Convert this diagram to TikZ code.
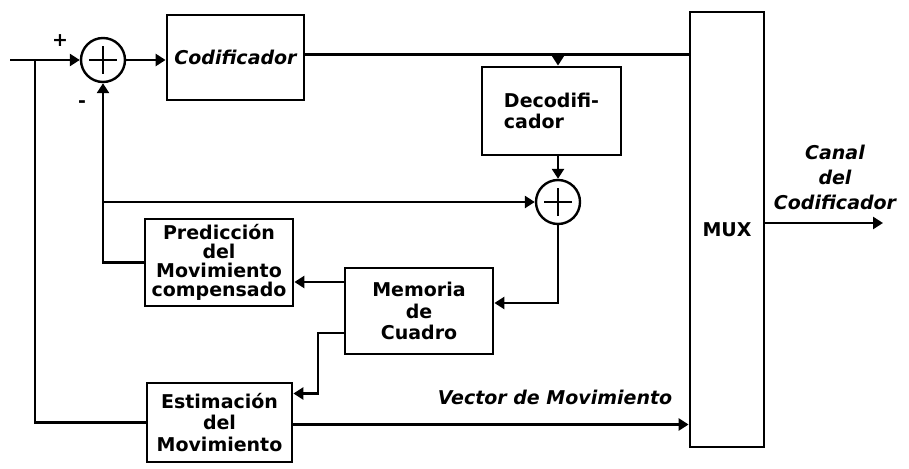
\documentclass[tikz,border=0pt]{standalone}
\usepackage{fontspec}
\setsansfont{DejaVu Sans}
\usetikzlibrary{arrows.meta,calc}
\tikzset{
  blk/.style={draw,line width=2.8pt,align=center,inner sep=1pt},
  sumnode/.style={draw,circle,line width=2.4pt,minimum size=44pt,inner sep=0pt,
    path picture={\draw[line width=2.4pt] ($(path picture bounding box.center)+(-14pt,0)$) -- ($(path picture bounding box.center)+(14pt,0)$)
      ($(path picture bounding box.center)+(0,-14pt)$) -- ($(path picture bounding box.center)+(0,14pt)$);}},
  flow/.style={line width=2.7pt,-{Triangle[length=10pt,width=12pt]}},
  wire/.style={line width=2.7pt},
  slant/.style={font=\sffamily\bfseries\itshape\fontsize{19}{21}\selectfont}
}
\begin{document}
\begin{tikzpicture}[x=1pt,y=-1pt,font=\sffamily\bfseries\fontsize{19}{21.5}\selectfont]
\useasboundingbox[fill=white] (0,0) rectangle (909,468);

% blocks
\node[sumnode] (sumA) at (103,60) {};
\node[blk,slant,minimum width=137pt,minimum height=85pt] (cod) at (235.5,57.5) {Codificador};
\node[blk,minimum width=139pt,minimum height=88pt,align=left] (dec) at (551.5,111) {Decodifi-\\cador};
\node[sumnode] (sumB) at (558,202) {};
\node[blk,minimum width=74pt,minimum height=435pt] (mux) at (727,229.5) {MUX};
\node[blk,minimum width=148pt,minimum height=87pt,font=\sffamily\bfseries\fontsize{19}{19}\selectfont] (pred) at (219,262.5) {Predicción\\del\\Movimiento\\compensado};
\node[blk,minimum width=148pt,minimum height=86pt] (mem) at (419,311) {Memoria\\de\\Cuadro};
\node[blk,minimum width=145pt,minimum height=79pt] (est) at (219.5,422.5) {Estimación\\del\\Movimiento};

% free ends
\coordinate (in) at (10,60);
\coordinate (br) at (35,60);
\coordinate (out) at (883,223);
\coordinate (bend) at (318,0);

% signs and labels
\node (plus) at (60,41) {+};
\node (minus) at (82,104) {-};
\node[slant] (vec) at (555,397) {Vector de Movimiento};
\node[slant,align=center,font=\sffamily\bfseries\itshape\fontsize{19}{25}\selectfont] (canal) at (835,177) {Canal\\del\\Codificador};

% connectors
\draw[flow] (in) -- (sumA.west);
\draw[wire] (br) |- (est.west);
\draw[flow] (sumA.east) -- (sumA.east -| cod.west);
\draw[wire] ([yshift=3pt]cod.east) -- ([yshift=3pt]cod.east -| mux.west);
\draw[flow] ([yshift=3pt]cod.east -| sumB.north) -- (sumB.north |- dec.north);
\draw[flow] (sumB.north |- dec.south) -- (sumB.north);
\draw[flow] (pred.west) -| (sumA.south);
\draw[flow] (sumA.south |- sumB.west) -- (sumB.west);
\draw[flow] (sumB.south) |- ([yshift=8pt]mem.east);
\draw[flow] ([yshift=29pt]mem.west) -- ([yshift=29pt]mem.west -| pred.east);
\draw[flow] ([yshift=-22pt]mem.west) -| (bend |- est.north) |- ([yshift=29pt]est.east);
\draw[flow] ([yshift=-2pt]est.east) -- ([yshift=-2pt]est.east -| mux.west);
\draw[flow] (mux.east |- out) -- (out);
\end{tikzpicture}
\end{document}
